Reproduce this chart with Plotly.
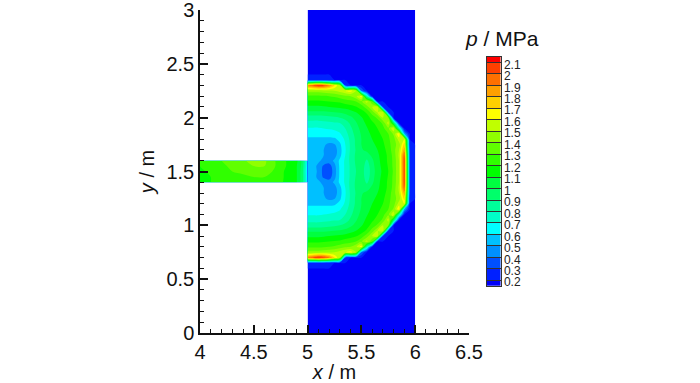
import plotly.graph_objects as go

# Pressure levels and colour bands (colour key, bottom to top)
levels = [round(0.2 + 0.1 * i, 1) for i in range(20)]
tick_labels = ["0.2","0.3","0.4","0.5","0.6","0.7","0.8","0.9","1","1.1","1.2","1.3","1.4","1.5","1.6","1.7","1.8","1.9","2","2.1"]
band_colors = ["#0000f8","#0020ff","#0050ff","#0090ff","#00c0ff","#00ffff","#00ffc8","#00ff9a","#00ff6a","#00ff40",
               "#00ff00","#30ff00","#60ff00","#90ff00","#c0ff00","#ffff00","#ffd000","#ffa000","#ff7000","#ff4000","#ff0000"]
key_edges = [0.15] + levels + [2.15]
key_values = [[round(0.15 + 0.1 * i, 2)] for i in range(21)]

# Chamber field (upper half; the lower half mirrors it)
chamber_x = [5.00,5.05,5.10,5.15,5.20,5.25,5.30,5.35,5.40,5.45,5.50,5.55,5.60,5.65,5.70,5.75,5.80,5.85,5.90,5.95,6.00]
offsets = [0,.05,.10,.15,.20,.25,.30,.35,.40,.45,.50,.55,.60,.65,.70,.75,.80,.85,.90,1.5]
upper = [
 [.56,.55,.48,.36,.33,.45,.62,.72,.82,.90,.96,.83,.95,1.05,1.12,1.20,1.32,1.50,2.05,.30,.2],
 [.56,.55,.47,.38,.35,.47,.62,.72,.82,.91,.97,.84,.96,1.06,1.13,1.21,1.33,1.50,2.05,.30,.2],
 [.56,.55,.52,.47,.45,.52,.62,.72,.83,.92,.98,.88,.98,1.07,1.14,1.22,1.33,1.50,2.05,.30,.2],
 [.56,.55,.54,.50,.44,.46,.57,.70,.83,.92,.99,.96,1.02,1.08,1.15,1.22,1.34,1.52,2.0,.30,.2],
 [.56,.55,.54,.50,.43,.45,.56,.69,.82,.91,.99,1.02,1.05,1.10,1.16,1.24,1.36,1.50,1.85,.30,.2],
 [.56,.55,.55,.52,.47,.49,.58,.70,.82,.92,1.0,1.04,1.08,1.12,1.18,1.26,1.36,1.45,1.75,.24,.2],
 [.57,.57,.57,.57,.57,.58,.63,.72,.83,.92,1.0,1.05,1.10,1.14,1.20,1.28,1.36,1.55,1.6,.2,.2],
 [.65,.65,.65,.65,.65,.66,.69,.76,.85,.94,1.01,1.07,1.12,1.17,1.23,1.30,1.42,1.70,.5,.2,.2],
 [.69,.69,.69,.7,.71,.72,.74,.80,.88,.96,1.03,1.09,1.15,1.20,1.27,1.38,1.60,.8,.2,.2,.2],
 [.76,.76,.76,.77,.78,.79,.80,.85,.92,.99,1.06,1.12,1.18,1.24,1.32,1.55,1.0,.2,.2,.2,.2],
 [.85,.85,.85,.86,.87,.88,.90,.93,.98,1.03,1.09,1.15,1.24,1.32,1.50,1.4,.2,.2,.2,.2,.2],
 [.98,.98,.98,.98,.99,1.0,1.01,1.03,1.06,1.10,1.15,1.22,1.35,1.50,1.60,.3,.2,.2,.2,.2,.2],
 [1.08,1.08,1.08,1.09,1.10,1.11,1.12,1.14,1.16,1.19,1.25,1.35,1.50,1.60,.3,.2,.2,.2,.2,.2,.2],
 [1.18,1.18,1.18,1.19,1.20,1.21,1.22,1.25,1.27,1.3,1.38,1.55,1.3,.2,.2,.2,.2,.2,.2,.2,.2],
 [1.28,1.28,1.28,1.29,1.30,1.32,1.35,1.38,1.4,1.48,1.65,.8,.2,.2,.2,.2,.2,.2,.2,.2,.2],
 [1.45,1.45,1.45,1.46,1.48,1.5,1.55,1.6,1.65,1.5,.4,.2,.2,.2,.2,.2,.2,.2,.2,.2,.2],
 [1.9,2.0,2.1,2.05,1.9,1.7,1.5,.3,.2,.2,.2,.2,.2,.2,.2,.2,.2,.2,.2,.2,.2],
 [.25,.25,.25,.25,.22,.2,.2,.2,.2,.2,.2,.2,.2,.2,.2,.2,.2,.2,.2,.2,.2],
 [.2]*21,
 [.2]*21,
]

# Inlet channel field
channel_x = [4.0,4.1,4.2,4.3,4.4,4.5,4.6,4.7,4.8,4.9,4.95,5.0]
channel_y = [1.4,1.45,1.5,1.55,1.6]
channel_z = [
 [1.15,1.2,1.25,1.25,1.25,1.28,1.28,1.25,1.18,1.1,.95,.62],
 [1.15,1.2,1.27,1.27,1.28,1.3,1.3,1.27,1.18,1.1,.95,.6],
 [1.18,1.22,1.27,1.3,1.32,1.35,1.35,1.28,1.18,1.1,.95,.58],
 [1.2,1.25,1.28,1.32,1.35,1.4,1.4,1.3,1.2,1.1,.97,.6],
 [1.2,1.25,1.3,1.33,1.38,1.45,1.42,1.3,1.2,1.12,.98,.65],
]

chamber_y = [1.5 - d for d in offsets[:0:-1]] + [1.5 + d for d in offsets]
chamber_z = upper[:0:-1] + upper

n = len(band_colors) - 1
colorscale = [[i / n, c] for i, c in enumerate(band_colors)]
contours = dict(start=levels[0], end=levels[-1], size=0.1, coloring="fill", showlines=False)
common = dict(colorscale=colorscale, zmin=0.15, zmax=2.15, showscale=False)
field = dict(contours=contours, autocontour=False, line=dict(width=0), **common)

fig = go.Figure()
fig.add_trace(go.Contour(x=channel_x, y=channel_y, z=channel_z, **field))
fig.add_trace(go.Contour(x=chamber_x, y=chamber_y, z=chamber_z, **field))
fig.add_trace(go.Heatmap(x=[0, 1], y=key_edges, z=key_values, xaxis="x2", yaxis="y2", hoverinfo="skip", **common))

axis_font = dict(family="Liberation Sans", size=20, color="#111111")
axis_common = dict(
    automargin=False, showgrid=False, zeroline=False, showline=True, linecolor="#111111", linewidth=1.5,
    ticks="inside", ticklen=8, tickwidth=1.5, tickcolor="#111111", dtick=0.5, tickfont=axis_font,
    minor=dict(ticks="inside", ticklen=4, dtick=0.1, tickcolor="#111111", tickwidth=1),
)
plot_w, plot_h = 350, 323
fig.update_layout(
    width=700, height=383, margin=dict(l=200, r=150, t=10, b=50), paper_bgcolor="white", plot_bgcolor="white",
    showlegend=False,
    xaxis=dict(range=[4, 6.5], tick0=4, domain=[0, 269/plot_w], anchor="y",
               title=dict(text="<i>x</i> / m", font=axis_font, standoff=9), **axis_common),
    yaxis=dict(range=[0, 3], tick0=0, domain=[0, 1], anchor="x", ticklabeloverflow="allow",
               title=dict(text="<i>y</i> / m", font=axis_font, standoff=6), **axis_common),
    xaxis2=dict(automargin=False, range=[0, 1], domain=[(487-200)/plot_w, (500.5-200)/plot_w], anchor="y2",
                showticklabels=False, ticks="", showgrid=False, zeroline=False,
                showline=True, mirror=True, linecolor="#333333", linewidth=1),
    yaxis2=dict(automargin=False, range=[0.15, 2.15], domain=[(333-286)/plot_h, (333-56.7)/plot_h], anchor="x2", side="right",
                tickmode="array", tickvals=levels, ticktext=tick_labels, ticks="inside", ticklen=14,
                tickwidth=1, tickcolor="#333333", showgrid=False, zeroline=False, ticklabelshift=2,
                tickfont=dict(family="Liberation Sans", size=12, color="#222222"),
                showline=True, mirror=True, linecolor="#333333", linewidth=1),
    annotations=[dict(text="<i>p</i> / MPa", xref="paper", yref="paper", x=(502-200)/plot_w, y=(333-38)/plot_h,
                      xanchor="center", yanchor="middle",
                      showarrow=False, font=dict(family="Liberation Sans", size=21, color="#111111"))],
)
fig.write_html("out.html", post_script="document.body.style.margin='0';", config=dict(displayModeBar=False))
